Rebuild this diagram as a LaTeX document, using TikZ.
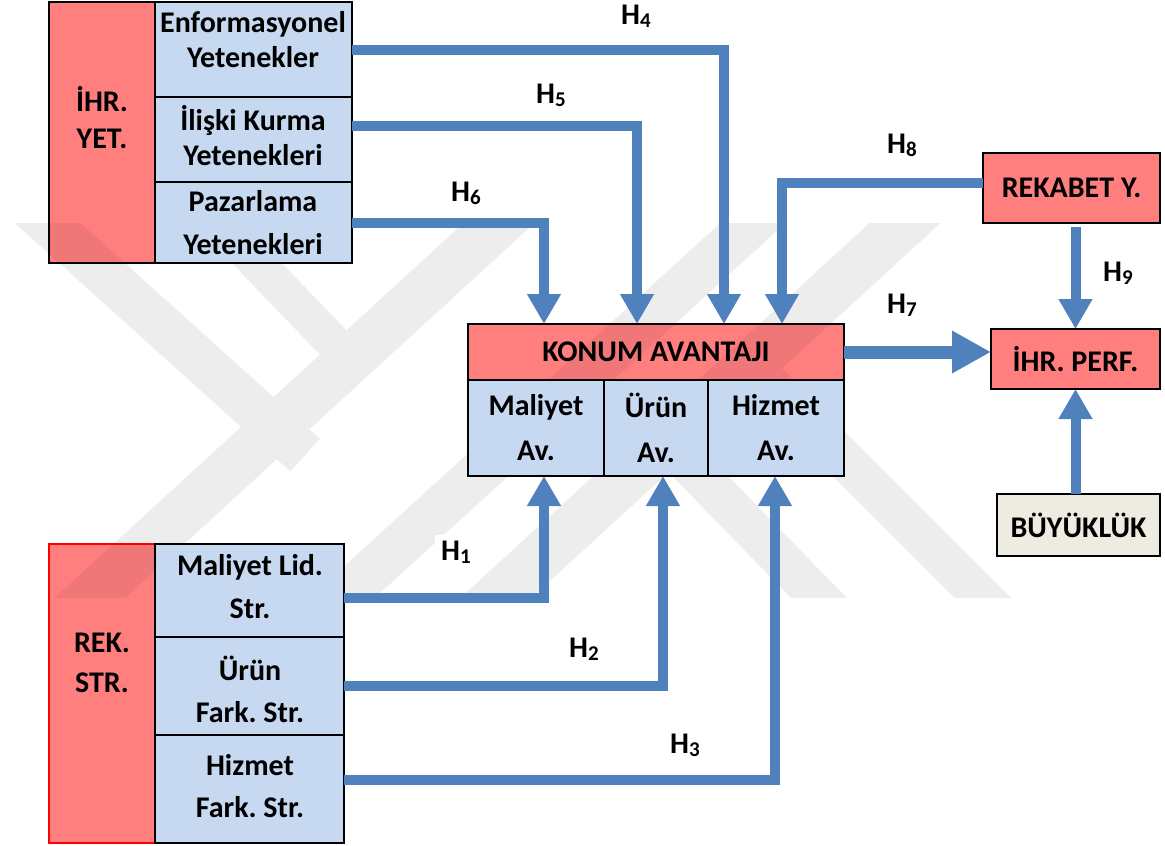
\documentclass[tikz,border=0pt]{standalone}
\usepackage{fontspec}
\setmainfont{Carlito}
\usetikzlibrary{arrows.meta,calc}
\frenchspacing

\definecolor{boxred}{HTML}{FF7F7F}
\definecolor{cellblue}{HTML}{C6D9F1}
\definecolor{linkblue}{HTML}{4F81BD}
\definecolor{sizefill}{HTML}{EEECE1}
\definecolor{markgray}{HTML}{EDEDED}

% hypothesis label: H with a lowered index digit
\newcommand{\hlab}[1]{H\raisebox{-3pt}{\fontsize{21}{21}\selectfont #1}}

\begin{document}
\begin{tikzpicture}[x=1pt, y=-1pt,
  frame/.style={draw=black, line width=2pt, inner sep=0pt, outer sep=0pt,
    anchor=north west, align=center, font=\fontsize{30}{45}\selectfont\bfseries},
  redbox/.style={frame, fill=boxred},
  bluebox/.style={frame, fill=cellblue},
  caption/.style={font=\fontsize{30}{#1}\selectfont\bfseries, align=center, inner sep=0pt},
  link/.style={draw=linkblue, line width=10pt, line join=miter,
    -{Triangle[width=32pt,length=30pt]}},
  biglink/.style={draw=linkblue, line width=13pt,
    -{Triangle[width=40pt,length=39pt]}},
  hyp/.style={font=\fontsize{30}{34}\selectfont\bfseries, inner sep=1pt}]

\useasboundingbox (0,0) rectangle (1165,846);

% faint logo bands in the background
\coordinate (wa1) at (0,180);   \coordinate (wa2) at (305,455);
\coordinate (wb1) at (177,180); \coordinate (wb2) at (350,360);
\coordinate (wc1) at (546,180); \coordinate (wc2) at (44,640);
\coordinate (wd1) at (952,180); \coordinate (wd2) at (450,640);
\coordinate (we1) at (800,180); \coordinate (we2) at (296,640);
\coordinate (wf1) at (660,435); \coordinate (wf2) at (860,640);
\coordinate (wg1) at (760,375); \coordinate (wg2) at (1025,640);

\begin{scope}
  \clip (0,223) rectangle (1165,597);
  \fill[markgray] \foreach \p/\q/\w in {wa1/wa2/22pt, wb1/wb2/18pt, wc1/wc2/24pt,
      wd1/wd2/24pt, we1/we2/22pt, wf1/wf2/20pt, wg1/wg2/20pt}
    { ($(\p)!\w!90:(\q)$) -- ($(\q)!\w!-90:(\p)$) -- ($(\q)!\w!90:(\p)$)
      -- ($(\p)!\w!-90:(\q)$) -- cycle };
\end{scope}

% export capabilities group
\node[redbox, minimum width=106, minimum height=261] (ihr) at (49,2) {};
\node[bluebox, minimum width=197, minimum height=95] (enf) at (155,2) {};
\node[bluebox, minimum width=197, minimum height=85] (ilis) at (155,97) {};
\node[bluebox, minimum width=197, minimum height=81] (paz) at (155,182) {};

% competitive strategy group
\node[redbox, draw=red, minimum width=106, minimum height=299] (rek) at (49,544) {};
\node[bluebox, minimum width=189, minimum height=93] (mlid) at (155,544) {};
\node[bluebox, minimum width=189, minimum height=98] (ufark) at (155,637) {};
\node[bluebox, minimum width=189, minimum height=108] (hfark) at (155,735) {};

% positional advantage block
\node[redbox, minimum width=376, minimum height=56] (konum) at (468,324) {KONUM AVANTAJI};
\node[bluebox, minimum width=136, minimum height=96] (mav) at (468,380) {Maliyet\\Av.};
\node[bluebox, minimum width=104, minimum height=96] (uav) at (604,380) {Ürün\\Av.};
\node[bluebox, minimum width=136, minimum height=96] (hav) at (708,380) {Hizmet\\Av.};

% right column
\node[redbox, minimum width=177, minimum height=70] (rekabet) at (983,153) {REKABET Y.};
\node[redbox, minimum width=169, minimum height=60] (perf) at (991,329) {İHR. PERF.};
\node[frame, fill=sizefill, minimum width=163, minimum height=62] (size) at (997,494) {BÜYÜKLÜK};

% logo bands showing through the red fills
\begin{scope}
  \clip (ihr.north west) rectangle (ihr.south east)
        (rek.north west) rectangle (rek.south east)
        (konum.north west) rectangle (konum.south east);
  \clip (0,223) rectangle (1165,597);
  \fill[black, fill opacity=0.06] \foreach \p/\q/\w in {wa1/wa2/22pt, wb1/wb2/18pt,
      wc1/wc2/24pt, wd1/wd2/24pt, we1/we2/22pt, wf1/wf2/20pt, wg1/wg2/20pt}
    { ($(\p)!\w!90:(\q)$) -- ($(\q)!\w!-90:(\p)$) -- ($(\q)!\w!90:(\p)$)
      -- ($(\p)!\w!-90:(\q)$) -- cycle };
\end{scope}

% texts of the left groups
\node[caption=37] (ihrtext) at (102,118) {İHR.\\YET.};
\node[caption=35] (enftext) at (253,40) {Enformasyonel\\Yetenekler};
\node[caption=35] (ilistext) at (253,136) {İlişki Kurma\\Yetenekleri};
\node[caption=43] (paztext) at (253,223) {Pazarlama\\Yetenekleri};
\node[caption=40] (rektext) at (102,663) {REK.\\STR.};
\node[caption=43] (mlidtext) at (250,587) {Maliyet Lid.\\Str.};
\node[caption=42] (ufarktext) at (250,689) {Ürün\\Fark. Str.};
\node[caption=42] (hfarktext) at (250,786) {Hizmet\\Fark. Str.};

% hypothesised paths
\draw[link] (enf.east) -| ($(konum.north west)+(256,0)$);
\draw[link] ($(ilis.east)+(0,-13.5)$) -| ($(konum.north west)+(169,0)$);
\draw[link] (paz.east) -| ($(konum.north west)+(76,0)$);
\draw[link] ($(rekabet.west)+(0,-5)$) -| ($(konum.north west)+(314,0)$);
\draw[link] ($(mlid.east)+(0,7.5)$) -| ($(mav.south west)+(76,0)$);
\draw[link] (ufark.east) -| ($(uav.south west)+(59,0)$);
\draw[link] ($(hfark.east)+(0,-9)$) -| ($(hav.south west)+(67,0)$);
\draw[biglink] (konum.east) -- (konum.east -| perf.west);
\draw[link] ($(perf.north |- rekabet.south)+(0,4)$) -- (perf.north);
\draw[link] (size.north -| perf.south) -- (perf.south);

% hypothesis labels
\node[hyp, fill=white, inner sep=6pt] (h1) at (456,552) {\hlab{1}};
\node[hyp] (h2) at (584,649) {\hlab{2}};
\node[hyp] (h3) at (685,745) {\hlab{3}};
\node[hyp] (h4) at (636,16) {\hlab{4}};
\node[hyp] (h5) at (551,95) {\hlab{5}};
\node[hyp] (h6) at (466,193) {\hlab{6}};
\node[hyp] (h7) at (902,305) {\hlab{7}};
\node[hyp] (h8) at (902,145) {\hlab{8}};
\node[hyp] (h9) at (1118,273) {\hlab{9}};
\end{tikzpicture}
\end{document}
